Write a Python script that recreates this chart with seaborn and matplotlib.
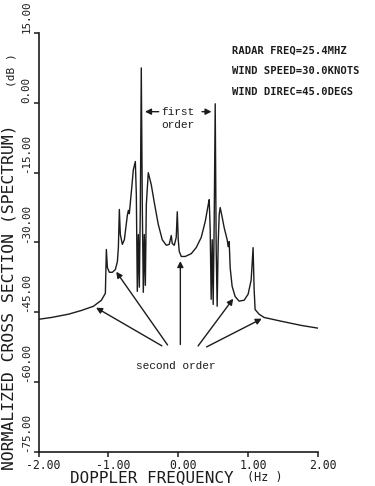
import matplotlib
matplotlib.use("Agg")
import matplotlib.pyplot as plt
import matplotlib.transforms as mtransforms
import seaborn as sns
import pandas as pd

# ---- data ----
freq_hz = [-2.000, -1.814, -1.571, -1.386, -1.214, -1.100, -1.043, -1.029, -1.014, -0.986,
           -0.943, -0.900, -0.871, -0.857, -0.843, -0.829, -0.800, -0.771, -0.729, -0.714,
           -0.700, -0.671, -0.643, -0.614, -0.600, -0.586, -0.571, -0.557, -0.543, -0.529,
           -0.514, -0.500, -0.486, -0.471, -0.457, -0.429, -0.386, -0.343, -0.286, -0.229,
           -0.171, -0.129, -0.100, -0.086, -0.057, -0.029, -0.014, 0.000, 0.014, 0.043,
           0.100, 0.186, 0.257, 0.329, 0.386, 0.429, 0.443, 0.457, 0.471, 0.486,
           0.500, 0.514, 0.529, 0.543, 0.557, 0.571, 0.586, 0.600, 0.629, 0.657,
           0.700, 0.714, 0.729, 0.743, 0.771, 0.814, 0.871, 0.943, 1.000, 1.043,
           1.057, 1.071, 1.086, 1.100, 1.157, 1.229, 1.471, 1.757, 2.000]
level_db = [-46.5, -46.1, -45.4, -44.6, -43.7, -42.4, -40.9, -31.5, -35.4, -36.4,
            -36.4, -35.8, -34.1, -31.1, -22.9, -28.3, -30.4, -29.4, -24.2, -23.1,
            -23.8, -19.1, -14.4, -12.6, -19.7, -40.5, -28.3, -39.6, -22.9, 7.5,
            -22.9, -40.7, -28.3, -39.2, -21.9, -15.0, -17.6, -21.4, -26.1, -29.4,
            -30.6, -30.4, -28.5, -30.2, -30.6, -28.9, -23.4, -29.4, -31.9, -33.0,
            -33.0, -32.4, -31.1, -28.9, -25.5, -21.9, -20.8, -27.2, -42.2, -29.4,
            -43.3, -26.1, -0.2, -31.5, -43.7, -30.4, -24.0, -22.5, -24.6, -26.8,
            -29.4, -30.9, -29.8, -35.4, -39.4, -41.6, -42.6, -42.4, -41.1, -38.1,
            -34.7, -31.1, -40.1, -44.4, -45.4, -46.1, -46.9, -47.8, -48.4]

x_ticks = [-2.0, -1.0, 0.0, 1.0, 2.0]
x_tick_labels = ["-2.00", "-1.00", "0.00", "1.00", "2.00"]
y_ticks = [-75, -60, -45, -30, -15, 0, 15]
y_tick_labels = ["-75.00", "-60.00", "-45.00", "-30.00", "-15.00", "0.00", "15.00"]

info_lines = ["RADAR FREQ=25.4MHZ", "WIND SPEED=30.0KNOTS", "WIND DIREC=45.0DEGS"]

df = pd.DataFrame({"freq": freq_hz, "db": level_db})

sns.set_style("ticks")
plt.rcParams["font.family"] = ["DejaVu Sans Mono", "DejaVu Sans"]

INK = "#1c1c1c"
fig = plt.figure(figsize=(3.75, 4.86), dpi=100)
fig.patch.set_facecolor("white")
ax = fig.add_axes([38.5 / 375, 34 / 486, (318 - 38.5) / 375, (452 - 33) / 486])
ax.set_facecolor("white")

sns.lineplot(data=df, x="freq", y="db", ax=ax, color=INK, linewidth=1.0,
             estimator=None, sort=False)

ax.set_xlim(-2, 2)
ax.set_ylim(-75, 15)
sns.despine(ax=ax)
for s in ("left", "bottom"):
    ax.spines[s].set_color(INK)
    ax.spines[s].set_linewidth(1.2)

ax.set_xticks(x_ticks)
ax.set_xticklabels(x_tick_labels, fontsize=8.3, color=INK)
ax.set_yticks(y_ticks)
ax.set_yticklabels(y_tick_labels, fontsize=7.8, color=INK, rotation=90, va="bottom")
ax.tick_params(axis="both", direction="out", length=3.5, width=1.1, color=INK)
ax.tick_params(axis="x", pad=1.5)
ax.tick_params(axis="y", pad=1.5)
off = mtransforms.ScaledTranslation(5 / 100, 0, fig.dpi_scale_trans)
for lab in ax.get_xticklabels():
    lab.set_transform(lab.get_transform() + off)
ax.set_xlabel("")
ax.set_ylabel("")

# axis titles
fig.text(70 / 375, 1 - 478 / 486, "DOPPLER FREQUENCY", fontsize=11.5, color=INK,
         ha="left", va="center")
fig.text(265 / 375, 1 - 477 / 486, "(Hz )", fontsize=8.5, color=INK,
         ha="center", va="center")
fig.text(9 / 375, 1 - 470 / 486, "NORMALIZED CROSS SECTION (SPECTRUM)", fontsize=11.8,
         color=INK, rotation=90, ha="center", va="bottom")
fig.text(11 / 375, 1 - 70 / 486, "(dB )", fontsize=8, color=INK, rotation=90,
         ha="center", va="center")

# info block
for i, t in enumerate(info_lines):
    fig.text(232 / 375, 1 - (51 + 20.5 * i) / 486, t, fontsize=7.6, color=INK,
             ha="left", va="center", fontweight="bold")

# first order annotation
serif = ["Liberation Mono", "DejaVu Sans Mono"]
ax.text(0.0, -1.9, "first", family=serif, fontsize=8, color=INK, ha="center", va="center")
ax.text(0.0, -4.8, "order", family=serif, fontsize=8, color=INK, ha="center", va="center")
arr = dict(arrowstyle="-|>,head_length=0.35,head_width=0.18", color=INK, lw=1.0)
ax.annotate("", xy=(-0.515, -1.9), xytext=(-0.24, -1.9), arrowprops=arr)
ax.annotate("", xy=(0.515, -1.9), xytext=(0.30, -1.9), arrowprops=arr)

# second order annotation
ax.text(-0.03, -56.6, "second order", family=serif, fontsize=8, color=INK,
        ha="center", va="center")
second_arrows = [((-0.20, -52.5), (-1.21, -43.7)),
                 ((-0.13, -52.5), (-0.91, -35.8)),
                 ((0.03, -52.5), (0.03, -33.4)),
                 ((0.26, -52.7), (0.81, -41.6)),
                 ((0.37, -52.7), (1.23, -46.1))]
for tail, head in second_arrows:
    ax.annotate("", xy=head, xytext=tail, arrowprops=arr)

fig.savefig("out.png", dpi=100, facecolor="white")
